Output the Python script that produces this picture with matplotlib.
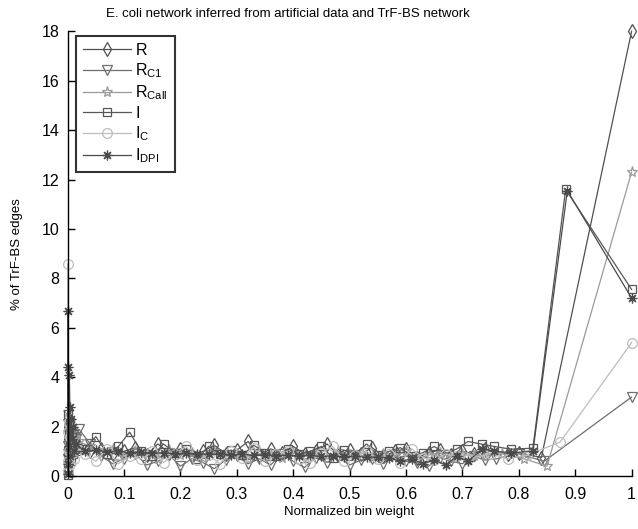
import matplotlib
matplotlib.use("Agg")
import matplotlib.pyplot as plt

plt.rcParams['font.family'] = ['Liberation Sans', 'DejaVu Sans']
plt.rcParams['mathtext.default'] = 'regular'

# ---- data ----
X_NEAR0 = [0.0, 0.0005, 0.001, 0.0015, 0.002, 0.003, 0.004, 0.005, 0.006, 0.008, 0.010, 0.012, 0.015]
X_BODY_A = [0.02, 0.04, 0.06, 0.08, 0.10, 0.12, 0.14, 0.16, 0.18, 0.20, 0.22, 0.24, 0.26,
            0.28, 0.30, 0.32, 0.34, 0.36, 0.38, 0.40, 0.42, 0.44, 0.46, 0.48, 0.50, 0.52,
            0.54, 0.56, 0.58, 0.60, 0.62, 0.64, 0.66, 0.68, 0.70, 0.72, 0.74]
X_BODY_B = [0.03, 0.05, 0.07, 0.09, 0.11, 0.13, 0.15, 0.17, 0.19, 0.21, 0.23, 0.25, 0.27,
            0.29, 0.31, 0.33, 0.35, 0.37, 0.39, 0.41, 0.43, 0.45, 0.47, 0.49, 0.51, 0.53,
            0.55, 0.57, 0.59, 0.61, 0.63, 0.65, 0.67, 0.69, 0.71]

R_NEAR0 = [0.3, 1.5, 0.8, 2.0, 1.1, 0.6, 1.7, 1.3, 0.9, 1.5, 1.0, 1.2, 1.1]
R_BODY = [1.2, 1.0, 1.1, 0.9, 1.0, 1.15, 0.85, 1.3, 0.95, 1.1, 0.8, 1.0, 1.25, 0.9, 1.05,
          1.4, 0.85, 1.1, 0.95, 1.2, 0.9, 1.0, 1.3, 0.85, 1.05, 0.9, 1.15, 0.8, 1.0, 1.1,
          0.75, 0.95, 1.05, 0.85, 1.0, 0.9, 1.1]
R_TAIL_X = [0.78, 0.80, 0.84, 1.0]
R_TAIL = [0.9, 0.95, 0.75, 18.0]

RC1_NEAR0 = [0.4, 2.1, 1.2, 0.7, 1.9, 1.4, 1.0, 1.6, 1.2, 1.8, 1.3, 1.6, 1.5]
RC1_BODY = [1.9, 1.3, 0.8, 0.5, 0.7, 0.9, 0.45, 0.6, 0.85, 0.4, 0.7, 0.55, 0.3, 0.65,
            0.8, 0.5, 0.7, 0.45, 0.9, 0.6, 0.35, 0.75, 0.55, 0.8, 0.45, 0.65, 0.7, 0.5,
            0.85, 0.6, 0.55, 0.4, 0.75, 0.6, 0.5, 0.8, 0.65]
RC1_TAIL_X = [0.76, 0.80, 0.845, 1.0]
RC1_TAIL = [0.7, 0.9, 0.6, 3.2]

RCALL_NEAR0 = [0.5, 1.8, 2.6, 1.0, 1.5, 2.0, 1.2, 1.7, 1.4, 1.9, 1.5, 1.6, 1.3]
RCALL_BODY = [1.4, 1.2, 0.9, 1.1, 0.8, 1.0, 0.9, 0.7, 1.05, 0.85, 0.95, 0.75, 1.0, 0.8,
              0.9, 0.7, 1.0, 0.85, 0.75, 0.95, 0.8, 0.9, 0.7, 1.0, 0.85, 0.95, 0.75, 0.9,
              0.8, 1.0, 0.7, 0.85, 0.95, 0.75, 0.9, 0.8, 0.85]
RCALL_TAIL_X = [0.77, 0.81, 0.85, 1.0]
RCALL_TAIL = [0.9, 0.7, 0.4, 12.3]

I_NEAR0 = [0.05, 1.0, 2.5, 0.3, 1.8, 0.7, 2.2, 1.2, 0.6, 1.6, 0.9, 1.3, 1.0]
I_BODY = [1.1, 1.6, 0.9, 1.2, 1.78, 1.0, 0.8, 1.3, 0.95, 1.1, 0.7, 1.2, 0.9, 1.05, 0.85,
          1.25, 0.95, 0.8, 1.1, 0.9, 1.0, 1.2, 0.75, 1.05, 0.9, 1.3, 0.85, 1.0, 1.15, 0.8,
          0.95, 1.2, 0.9, 1.1, 1.4]
I_TAIL_X = [0.735, 0.756, 0.786, 0.825, 0.883, 1.0]
I_TAIL = [1.29, 1.2, 1.09, 1.13, 11.6, 7.55]

IC_NEAR0 = [0.2, 8.6, 0.6, 1.8, 2.2, 1.0, 0.5, 1.6, 0.9, 1.4, 1.1, 0.7, 1.2]
IC_BODY = [0.9, 0.6, 1.1, 0.5, 0.8, 0.7, 1.0, 0.55, 0.9, 1.2, 0.65, 0.85, 0.5, 1.0, 0.75,
           1.15, 0.6, 0.9, 1.0, 0.7, 0.55, 0.95, 1.2, 0.6, 0.85, 1.0, 0.7, 0.9, 0.55, 1.1,
           0.75, 0.65, 0.9, 0.8, 0.7]
IC_TAIL_X = [0.75, 0.78, 0.814, 0.873, 1.0]
IC_TAIL = [0.9, 0.7, 0.85, 1.37, 5.4]

IDPI_NEAR0 = [0.1, 6.7, 0.5, 4.4, 1.2, 4.1, 2.8, 0.8, 2.3, 1.5, 2.0, 1.0, 1.3]
IDPI_BODY = [1.0, 1.05, 0.98, 1.0, 0.95, 0.97, 0.93, 0.95, 0.9, 0.92, 0.9, 0.88, 0.9,
             0.86, 0.88, 0.85, 0.86, 0.83, 0.85, 0.82, 0.84, 0.8, 0.82, 0.78, 0.8, 0.76,
             0.78, 0.74, 0.6, 0.7, 0.5, 0.65, 0.45, 0.8, 0.6]
IDPI_TAIL_X = [0.735, 0.756, 0.786, 0.825, 0.886, 1.0]
IDPI_TAIL = [1.1, 1.0, 0.95, 1.0, 11.55, 7.2]

LABELS = ['R', r'R$_{C1}$', r'R$_{Call}$', 'I', r'I$_{C}$', r'I$_{DPI}$']
X_TICKS = [0, 0.1, 0.2, 0.3, 0.4, 0.5, 0.6, 0.7, 0.8, 0.9, 1]
X_TICKLABELS = ['0', '0.1', '0.2', '0.3', '0.4', '0.5', '0.6', '0.7', '0.8', '0.9', '1']
Y_TICKS = [0, 2, 4, 6, 8, 10, 12, 14, 16, 18]

series = [
    (X_NEAR0 + X_BODY_A + R_TAIL_X, R_NEAR0 + R_BODY + R_TAIL, 'd', '#505050', 7),
    (X_NEAR0 + X_BODY_A + RC1_TAIL_X, RC1_NEAR0 + RC1_BODY + RC1_TAIL, 'v', '#6e6e6e', 7),
    (X_NEAR0 + X_BODY_A + RCALL_TAIL_X, RCALL_NEAR0 + RCALL_BODY + RCALL_TAIL, '*', '#9a9a9a', 8),
    (X_NEAR0 + X_BODY_B + I_TAIL_X, I_NEAR0 + I_BODY + I_TAIL, 's', '#575757', 6),
    (X_NEAR0 + X_BODY_B + IC_TAIL_X, IC_NEAR0 + IC_BODY + IC_TAIL, 'o', '#bdbdbd', 7),
    (X_NEAR0 + X_BODY_B + IDPI_TAIL_X, IDPI_NEAR0 + IDPI_BODY + IDPI_TAIL, (8, 2, 0), '#4a4a4a', 7),
]

fig = plt.figure(figsize=(6.38, 5.29), dpi=100)
ax = fig.add_axes([0.106, 0.1, 0.884, 0.841])

for (x, y, m, c, ms), lab in zip(series, LABELS):
    ax.plot(x, y, color=c, marker=m, mfc='none', mec=c, ms=ms, lw=0.9, mew=0.9,
            label=lab, clip_on=False)

ax.set_xlim(0, 1)
ax.set_ylim(0, 18)
ax.set_xticks(X_TICKS)
ax.set_xticklabels(X_TICKLABELS)
ax.set_yticks(Y_TICKS)
ax.tick_params(direction='in', length=5, width=1, labelsize=11.5)
ax.tick_params(axis='x', pad=8)
ax.tick_params(axis='y', pad=6)
for s in ['top', 'right']:
    ax.spines[s].set_visible(False)
for s in ['left', 'bottom']:
    ax.spines[s].set_linewidth(1)

ax.set_xlabel('Normalized bin weight', fontsize=9.5, labelpad=3)
ax.set_ylabel('% of TrF-BS edges', fontsize=9.5, labelpad=13)
ax.set_title('E. coli network inferred from artificial data and TrF-BS network',
             fontsize=9.5, pad=10, x=0.39)

leg = ax.legend(loc='upper left', bbox_to_anchor=(0.014, 0.99), frameon=True, fancybox=False,
                edgecolor='black', fontsize=11.5, handlelength=3.0, labelspacing=0.22,
                borderpad=0.45, handletextpad=0.3, borderaxespad=0)
leg.get_frame().set_linewidth(1.5)

fig.savefig('out.png', dpi=100)
